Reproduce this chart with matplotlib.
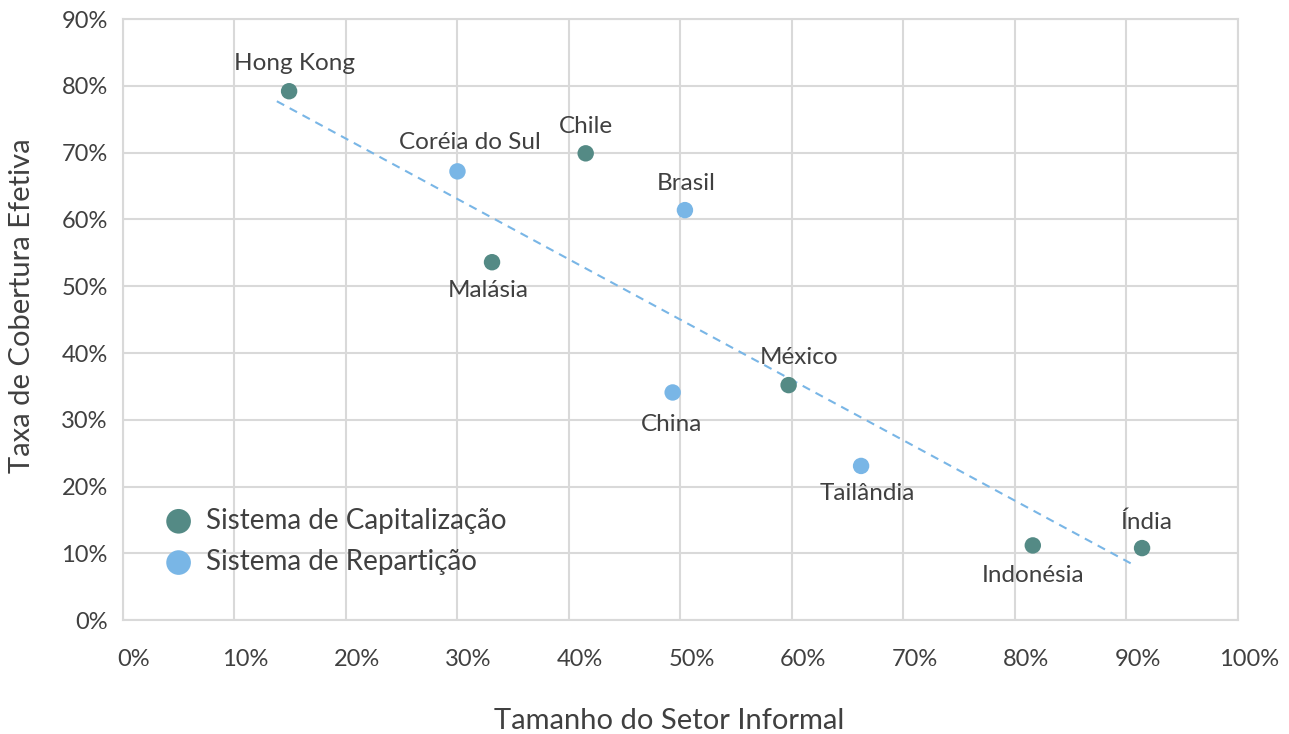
import matplotlib
matplotlib.use('Agg')
import matplotlib.pyplot as plt
import matplotlib.transforms as mtransforms
from matplotlib.ticker import FuncFormatter

plt.rcParams['font.family'] = ['Lato', 'DejaVu Sans']

# dados (% do setor informal, % cobertura efetiva)
cap_names = ['Hong Kong', 'Chile', 'Malásia', 'México', 'Indonésia', 'Índia']
cap_x = [14.9, 41.5, 33.1, 59.7, 81.6, 91.4]
cap_y = [79.2, 69.9, 53.6, 35.2, 11.2, 10.8]

rep_names = ['Coréia do Sul', 'Brasil', 'China', 'Tailândia']
rep_x = [30.0, 50.4, 49.3, 66.2]
rep_y = [67.2, 61.4, 34.1, 23.1]

# linha de tendência (extremos)
trend_x = [13.8, 90.4]
trend_y = [77.7, 8.5]

# posição dos rótulos: deslocamento em pixels (x, y para cima)
offsets = {
    'Hong Kong': (5, 28), 'Chile': (0, 27), 'Malásia': (-4, -28),
    'México': (10, 28), 'Indonésia': (0, -30), 'Índia': (4, 26),
    'Coréia do Sul': (12, 29), 'Brasil': (1, 27), 'China': (-1, -32),
    'Tailândia': (6, -28),
}

c_cap = '#548a85'
c_rep = '#79b6e6'
txt = '#404040'
grid = '#d9d9d9'

fig = plt.figure(figsize=(12.89, 7.34), dpi=100)
ax = fig.add_axes([0.0954, 0.155, 0.865, 0.819])

ax.plot(trend_x, trend_y, color=c_rep, lw=1.5, ls=(0, (4, 3)), zorder=2)
ax.scatter(cap_x, cap_y, s=140, color=c_cap, zorder=3, label='Sistema de Capitalização', edgecolors='none')
ax.scatter(rep_x, rep_y, s=140, color=c_rep, zorder=3, label='Sistema de Repartição', edgecolors='none')

for names, xs, ys in [(cap_names, cap_x, cap_y), (rep_names, rep_x, rep_y)]:
    for n, x, y in zip(names, xs, ys):
        dx, dy = offsets[n]
        ax.annotate(n, (x, y), xytext=(dx * 0.72, dy * 0.72), textcoords='offset points',
                    ha='center', va='center', fontsize=17.5, color=txt)

ax.set_xlim(0, 100)
ax.set_ylim(0, 90)
ax.set_xticks(range(0, 101, 10))
ax.set_yticks(range(0, 91, 10))
pct = FuncFormatter(lambda v, p: '%d%%' % v)
ax.xaxis.set_major_formatter(pct)
ax.yaxis.set_major_formatter(pct)
ax.tick_params(length=0, labelsize=17, labelcolor=txt)
ax.tick_params(axis='x', pad=21)
ax.tick_params(axis='y', pad=11)
# rótulos do eixo x levemente deslocados à direita, como no original
shift = mtransforms.ScaledTranslation(11 / 100, 0, fig.dpi_scale_trans)
for lab in ax.get_xticklabels():
    lab.set_transform(lab.get_transform() + shift)
ax.grid(True, color=grid, lw=1.5)
ax.set_axisbelow(True)
for s in ax.spines.values():
    s.set_color(grid)
    s.set_linewidth(1.5)

ax.set_xlabel('Tamanho do Setor Informal', fontsize=21, color=txt)
ax.xaxis.set_label_coords(0.49, -0.146)
ax.set_ylabel('Taxa de Cobertura Efetiva', fontsize=21, color=txt)
ax.yaxis.set_label_coords(-0.079, 0.524)

leg = ax.legend(loc='lower left', bbox_to_anchor=(0.015, 0.057), frameon=False,
                fontsize=20, markerscale=1.5, handletextpad=0.0, labelspacing=0.55,
                borderaxespad=0)
for t in leg.get_texts():
    t.set_color(txt)

fig.savefig('out.png', dpi=100)
